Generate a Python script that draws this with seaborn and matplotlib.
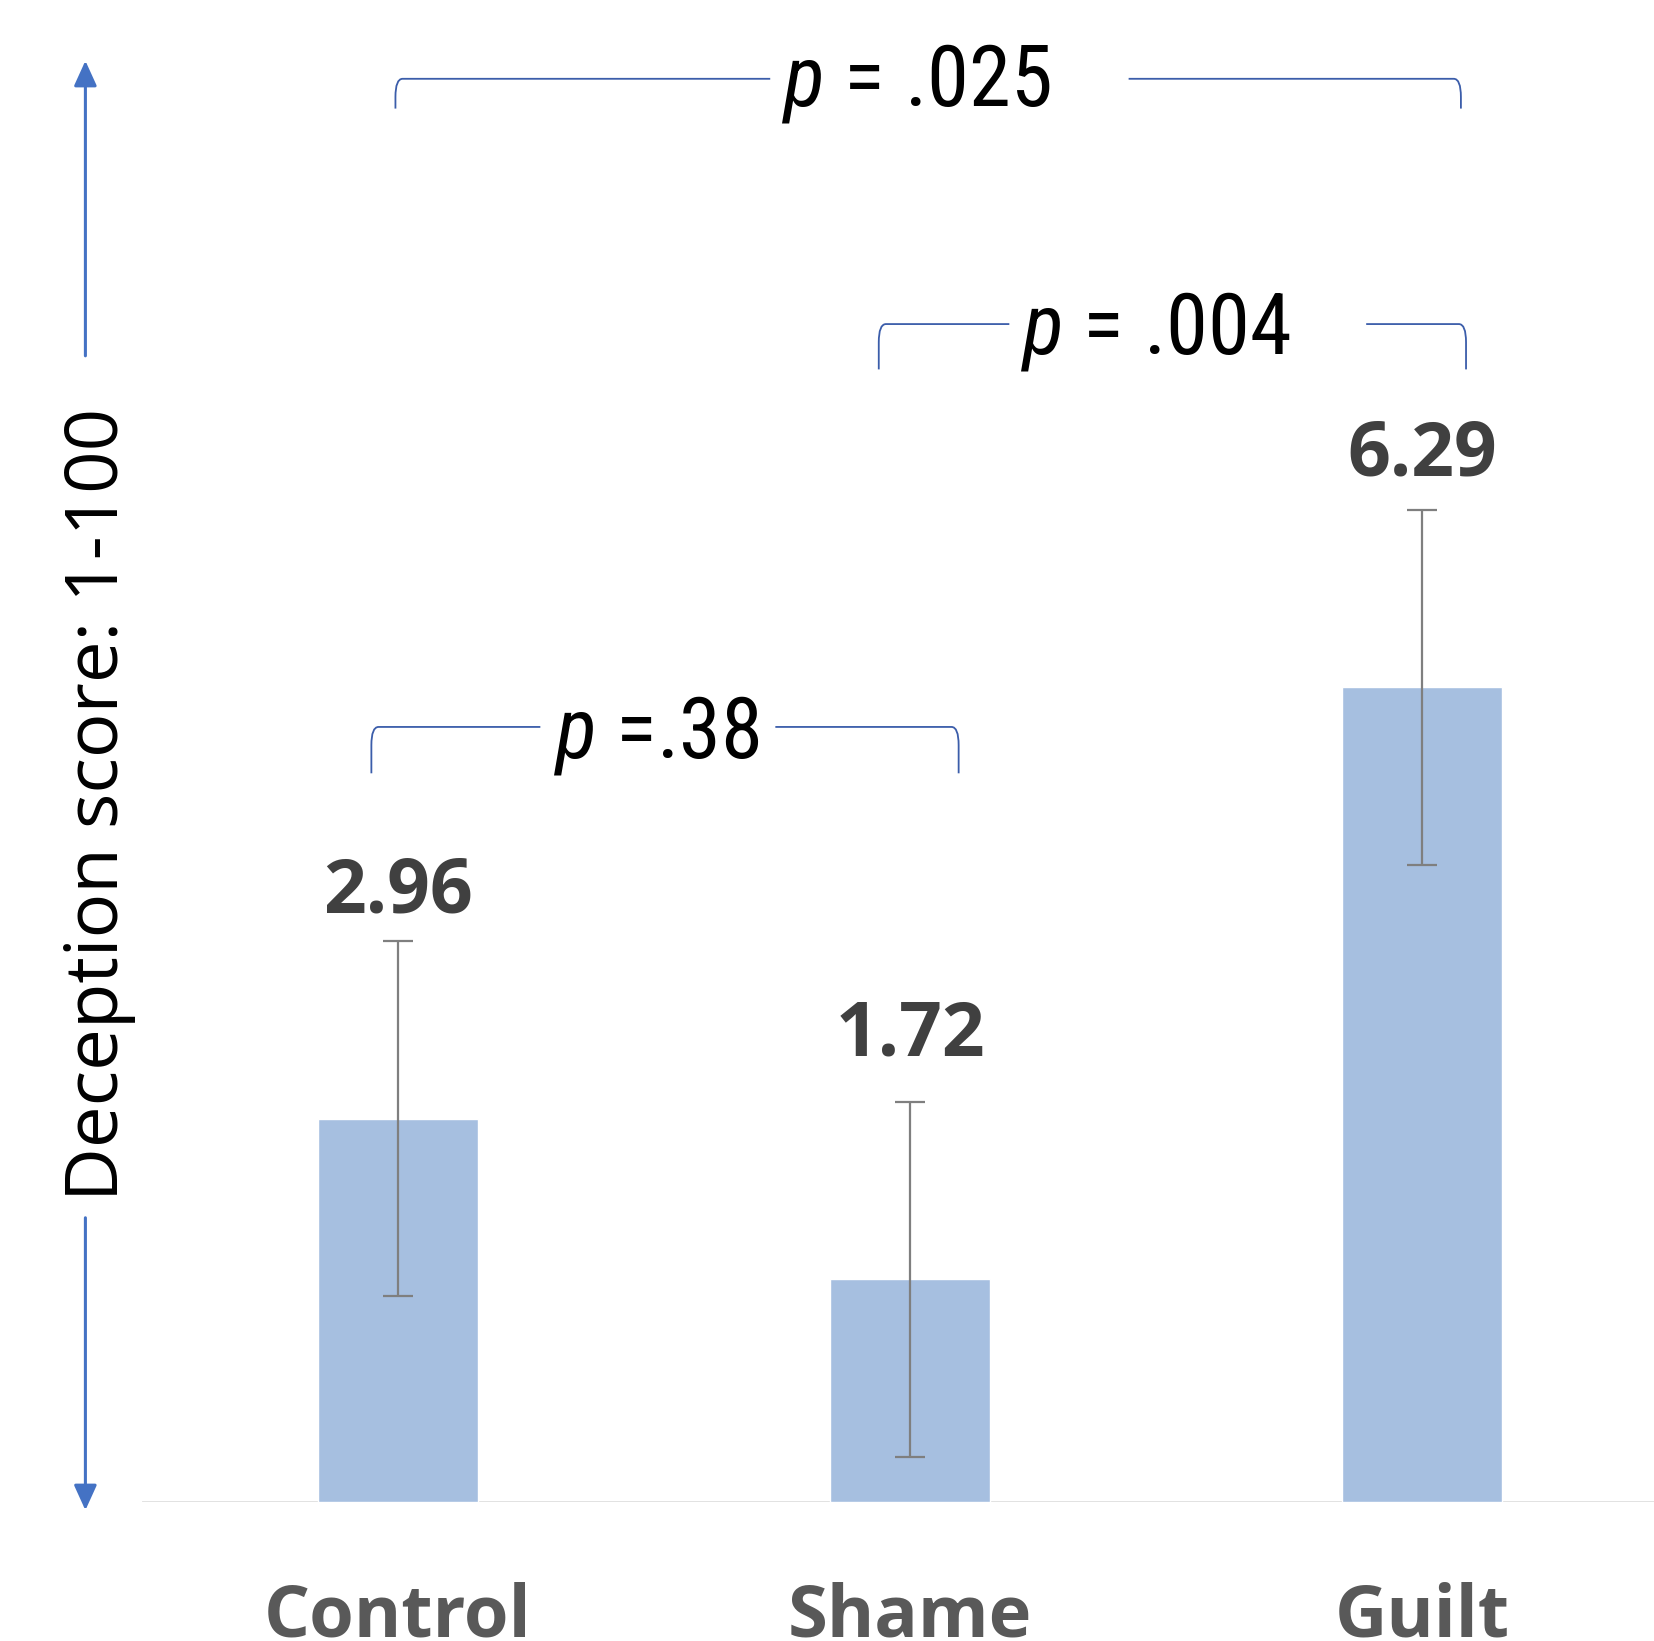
import matplotlib
matplotlib.use("Agg")
import matplotlib.pyplot as plt
import seaborn as sns
import pandas as pd
from matplotlib.path import Path
from matplotlib.patches import PathPatch, FancyArrowPatch

# ---- data ----
categories = ["Control", "Shame", "Guilt"]
means = [2.96, 1.72, 6.29]
errors = [1.37, 1.37, 1.37]
value_labels = ["2.96", "1.72", "6.29"]
p_labels = ["$p$ = .025", "$p$ = .004", "$p$ =.38"]

# label gap above the error-bar cap (style)
label_gaps = [0.22, 0.36, 0.27]

sns.set_theme(style="white")
plt.rcParams["font.family"] = ["Open Sans", "DejaVu Sans"]
plt.rcParams["mathtext.fontset"] = "custom"
plt.rcParams["mathtext.it"] = "Roboto Condensed:italic"
plt.rcParams["mathtext.rm"] = "Roboto Condensed"

W, H = 1654, 1641
fig = plt.figure(figsize=(W / 100, H / 100), dpi=100)
ax_left, ax_bottom = 142, 139
ax = fig.add_axes([ax_left / W, ax_bottom / H, 1 - ax_left / W, 1 - ax_bottom / H])

df = pd.DataFrame({"cat": categories, "val": means})
bar_color = "#A6BFE0"
sns.barplot(data=df, x="cat", y="val", color=bar_color, saturation=1,
            width=0.3125, errorbar=None, ax=ax, zorder=2)

xs = list(range(len(categories)))
ax.errorbar(xs, means, yerr=errors, fmt="none", ecolor="#7F7F7F",
            elinewidth=1.6, capsize=11, capthick=1.6, zorder=3)

px_per_unit = 129.5
ax.set_ylim(0, (H - ax_bottom) / px_per_unit)
ax.set_xlim(-0.5, -0.5 + (W - ax_left) / 512)
ax.axhline(0, color="#D9D9D9", lw=1.8, zorder=1)

for s in ax.spines.values():
    s.set_visible(False)
ax.set_xticks([])
ax.set_yticks([])
ax.set_xlabel("")
ax.set_ylabel("")

# value labels
for x, m, e, g, lab in zip(xs, means, errors, label_gaps, value_labels):
    ax.text(x, m + e + g, lab, ha="center", va="baseline", fontsize=54,
            fontweight="bold", color="#404040")

# category labels
for x, lab in zip(xs, categories):
    ax.text(x, -1.04, lab, ha="center", va="baseline", fontsize=52,
            fontweight="bold", color="#595959", clip_on=False)

# brackets
br_color = "#3B5DAA"
def bracket(x0, x1, ytop, ylow, g0, g1, tx, tbase, label):
    rx, ry = 0.014, 0.14
    codes = [Path.MOVETO, Path.LINETO, Path.CURVE3, Path.CURVE3, Path.LINETO]
    for xe, sgn, g in ((x0, 1, g0), (x1, -1, g1)):
        verts = [(xe, ylow), (xe, ytop - ry), (xe, ytop), (xe + sgn * rx, ytop), (g, ytop)]
        ax.add_patch(PathPatch(Path(verts, codes), fill=False, ec=br_color,
                               lw=1.3, clip_on=False))
    ax.text(tx, tbase, label, ha="center", va="baseline",
            fontsize=61, family="Roboto Condensed", color="black")

bracket(-0.005, 2.076, 10.99, 10.76, 0.727, 1.427, 1.012, 10.78, p_labels[0])
bracket(0.939, 2.086, 9.096, 8.746, 1.194, 1.891, 1.479, 8.868, p_labels[1])
bracket(-0.052, 1.095, 5.985, 5.627, 0.278, 0.737, 0.505, 5.749, p_labels[2])

# y axis arrow & title
acol = "#4472C4"
for y0, y1 in ((H - 358.6, H - 58), (H - 1215, H - 1513)):
    fig.add_artist(FancyArrowPatch((85.4, y0), (85.4, y1), transform=None,
                                   arrowstyle="-|>,head_length=1.1,head_width=0.5",
                                   mutation_scale=14, color=acol, lw=2.2))
fig.text(99 / W, 1 - 804 / H, "Deception score: 1-100", rotation=90,
         ha="center", va="center", fontsize=53.5, color="black")

fig.savefig("out.png", dpi=100)
